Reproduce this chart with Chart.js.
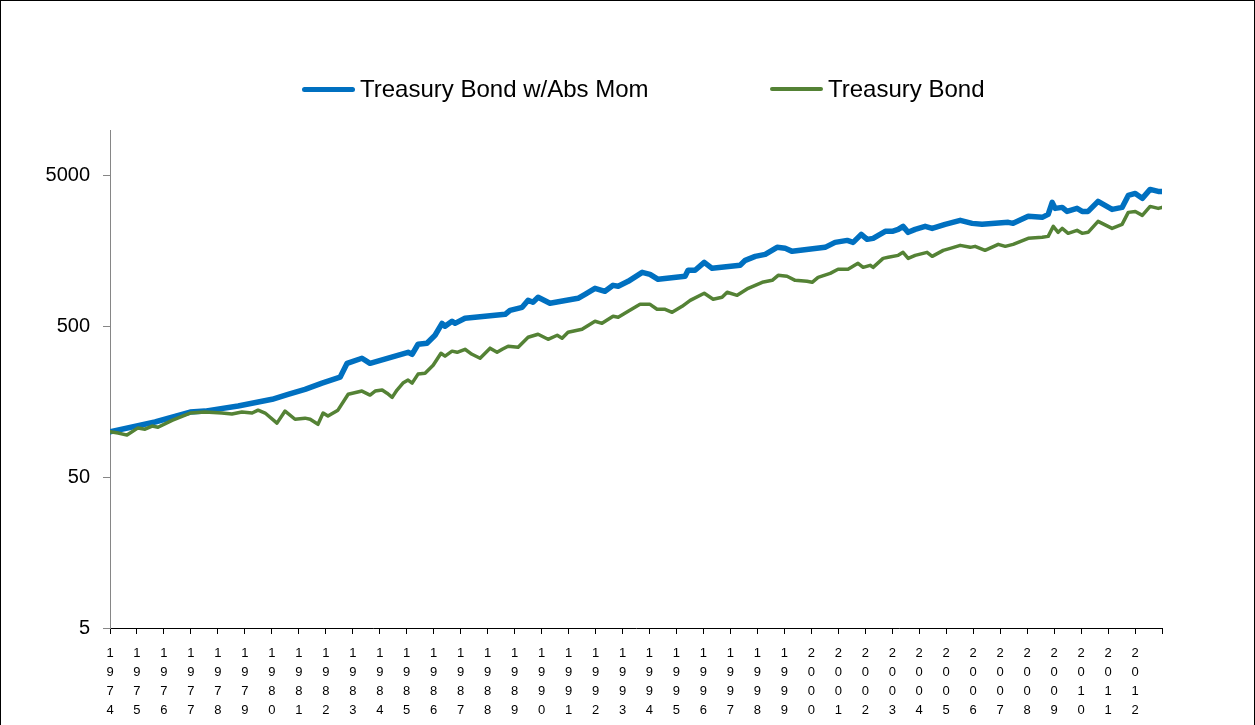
<!DOCTYPE html>
<html>
<head>
<meta charset="utf-8">
<title>Treasury Bond w/Abs Mom</title>
<script src="https://cdn.jsdelivr.net/npm/chart.js@4.4.1/dist/chart.umd.min.js"></script>
<style>
  html, body { margin: 0; padding: 0; background: #fff; overflow: hidden; }
  #wrap { position: relative; width: 1255px; height: 725px; }
  #frame {
    position: absolute; left: 0; top: 0; width: 1255px; height: 760px;
    border: 1px solid #000; box-sizing: border-box; pointer-events: none;
  }
  .legend-item {
    position: absolute; top: 77px; height: 24px; display: flex; align-items: center;
    font-family: "Liberation Sans", Arial, sans-serif; font-size: 24px; color: #000;
    white-space: nowrap;
  }
  .legend-line { display: inline-block; width: 53px; border-radius: 3px; margin-right: 5px; }
</style>
</head>
<body>
<div id="wrap">
  <canvas id="chart" width="1255" height="725"></canvas>
  <div class="legend-item" style="left:302px">
    <span class="legend-line" style="height:5px;background:#0070c0"></span>Treasury Bond w/Abs Mom
  </div>
  <div class="legend-item" style="left:770px">
    <span class="legend-line" style="height:4px;background:#548235"></span>Treasury Bond
  </div>
  <div id="frame"></div>
</div>
<script>
const X_MIN = 1974;
const X_MAX = 2013;

const yTickValues = [5, 50, 500, 5000];

// growth of 100 (x = fractional year)
const blueYears = [1974.00, 1975.67, 1976.97, 1977.52, 1978.75, 1980.01, 1980.60, 1981.23, 1981.86, 1982.53,
  1982.79, 1983.34, 1983.64, 1985.05, 1985.20, 1985.42, 1985.75, 1986.05, 1986.31, 1986.42,
  1986.68, 1986.79, 1987.16, 1988.65, 1988.83, 1989.28, 1989.50, 1989.68, 1989.87, 1990.31,
  1991.35, 1991.61, 1991.98, 1992.35, 1992.65, 1992.84, 1993.21, 1993.73, 1994.02, 1994.32,
  1995.32, 1995.43, 1995.69, 1996.03, 1996.32, 1997.36, 1997.55, 1997.92, 1998.29, 1998.73,
  1999.03, 1999.29, 2000.51, 2000.88, 2001.33, 2001.55, 2001.85, 2002.07, 2002.29, 2002.74,
  2003.00, 2003.22, 2003.40, 2003.59, 2003.85, 2004.22, 2004.48, 2004.96, 2005.52, 2005.96,
  2006.33, 2007.30, 2007.48, 2008.04, 2008.56, 2008.78, 2008.93, 2009.04, 2009.30, 2009.48,
  2009.85, 2010.04, 2010.26, 2010.63, 2011.15, 2011.52, 2011.75, 2012.01, 2012.27, 2012.56,
  2012.86, 2013.00];
const blueValues = [100, 116, 135, 137, 148, 164, 177, 191, 210, 230,
  284, 307, 284, 336, 326, 380, 386, 436, 523, 500,
  540, 523, 565, 600, 638, 668, 743, 721, 778, 710,
  766, 815, 893, 853, 934, 920, 993, 1139, 1105, 1024,
  1072, 1175, 1175, 1327, 1211, 1268, 1368, 1454, 1499, 1668,
  1643, 1569, 1668, 1800, 1855, 1800, 2034, 1884, 1913, 2129,
  2129, 2195, 2298, 2097, 2195, 2298, 2228, 2369, 2518, 2405,
  2369, 2442, 2405, 2677, 2636, 2759, 3313, 3023, 3069, 2887,
  3023, 2887, 2887, 3363, 2977, 3069, 3686, 3800, 3522, 4038,
  3917, 3917];

const greenYears = [1974.00, 1974.30, 1974.63, 1975.04, 1975.30, 1975.56, 1975.78, 1976.30, 1976.97, 1977.52,
  1978.15, 1978.52, 1978.89, 1979.27, 1979.49, 1979.75, 1980.19, 1980.49, 1980.86, 1981.23,
  1981.42, 1981.71, 1981.90, 1982.08, 1982.45, 1982.83, 1983.34, 1983.64, 1983.83, 1984.09,
  1984.27, 1984.46, 1984.64, 1984.86, 1985.05, 1985.20, 1985.42, 1985.68, 1985.98, 1986.27,
  1986.42, 1986.68, 1986.87, 1987.16, 1987.42, 1987.72, 1988.09, 1988.35, 1988.54, 1988.76,
  1989.13, 1989.50, 1989.87, 1990.24, 1990.58, 1990.76, 1990.98, 1991.50, 1991.98, 1992.24,
  1992.65, 1992.84, 1993.21, 1993.65, 1994.02, 1994.28, 1994.58, 1994.84, 1995.21, 1995.51,
  1996.03, 1996.36, 1996.69, 1996.88, 1997.25, 1997.66, 1998.18, 1998.55, 1998.77, 1999.10,
  1999.40, 1999.84, 2000.03, 2000.25, 2000.70, 2000.99, 2001.36, 2001.73, 2001.92, 2002.18,
  2002.29, 2002.66, 2002.85, 2003.22, 2003.40, 2003.59, 2003.85, 2004.29, 2004.48, 2004.89,
  2005.15, 2005.52, 2005.89, 2006.07, 2006.44, 2006.93, 2007.19, 2007.48, 2008.04, 2008.56,
  2008.78, 2008.97, 2009.15, 2009.30, 2009.52, 2009.85, 2010.04, 2010.26, 2010.63, 2011.15,
  2011.52, 2011.75, 2012.01, 2012.27, 2012.56, 2012.86, 2013.00];
const greenValues = [100, 98, 95, 106, 104, 109, 107, 119, 133, 135,
  133, 131, 135, 133, 139, 133, 114, 137, 121, 123,
  121, 112, 133, 127, 139, 177, 186, 175, 186, 189,
  180, 169, 189, 210, 220, 210, 241, 244, 276, 331,
  317, 342, 336, 352, 326, 307, 358, 336, 352, 369,
  363, 423, 443, 410, 436, 417, 456, 478, 540, 523,
  583, 574, 629, 699, 699, 648, 648, 619, 678, 743,
  827, 755, 778, 840, 802, 893, 978, 1008, 1088, 1072,
  1008, 993, 978, 1056, 1122, 1193, 1193, 1307, 1229, 1268,
  1229, 1410, 1432, 1476, 1545, 1410, 1476, 1545, 1454, 1593,
  1643, 1719, 1668, 1693, 1593, 1746, 1693, 1746, 1913, 1943,
  1972, 2298, 2097, 2228, 2065, 2161, 2065, 2097, 2480, 2228,
  2369, 2844, 2887, 2717, 3116, 3023, 3069];

function toPoints(xs, ys) {
  return xs.map((x, i) => ({ x, y: ys[i] }));
}

Chart.defaults.font.family = '"Liberation Sans", Arial, sans-serif';
Chart.defaults.color = "#000";

new Chart(document.getElementById("chart"), {
  type: "line",
  data: {
    datasets: [
      {
        label: "Treasury Bond w/Abs Mom",
        data: toPoints(blueYears, blueValues),
        borderColor: "#0070c0",
        backgroundColor: "#0070c0",
        borderWidth: 5.5,
        pointRadius: 0,
        tension: 0,
        borderJoinStyle: "round",
        borderCapStyle: "round",
        order: 1,
      },
      {
        label: "Treasury Bond",
        data: toPoints(greenYears, greenValues),
        borderColor: "#548235",
        backgroundColor: "#548235",
        borderWidth: 3.5,
        pointRadius: 0,
        tension: 0,
        borderJoinStyle: "round",
        borderCapStyle: "round",
        order: 0,
      },
    ],
  },
  options: {
    responsive: false,
    animation: false,
    devicePixelRatio: 1,
    layout: { padding: { top: 130, right: 93, left: 0, bottom: 0 } },
    plugins: {
      legend: { display: false },
      tooltip: { enabled: false },
    },
    scales: {
      x: {
        type: "linear",
        min: X_MIN,
        max: X_MAX,
        afterFit: (s) => { s.height = 97; },
        border: { color: "#000", width: 1 },
        grid: { drawOnChartArea: false, drawTicks: true, tickLength: 6, color: "#000" },
        ticks: {
          stepSize: 1,
          autoSkip: false,
          maxRotation: 0,
          minRotation: 0,
          padding: 10,
          font: { size: 13, lineHeight: "19px" },
          callback: (v) => (v < X_MAX ? String(v).split("") : ""),
        },
      },
      y: {
        type: "logarithmic",
        min: 5,
        max: 10000,
        afterFit: (s) => { s.width = 110; },
        afterBuildTicks: (s) => { s.ticks = yTickValues.map((v) => ({ value: v })); },
        border: { color: "#868686", width: 1 },
        grid: { drawOnChartArea: false, drawTicks: true, tickLength: 7, color: "#868686" },
        ticks: {
          padding: 13,
          font: { size: 20 },
          callback: (v) => String(v),
        },
      },
    },
  },
});
</script>
</body>
</html>
